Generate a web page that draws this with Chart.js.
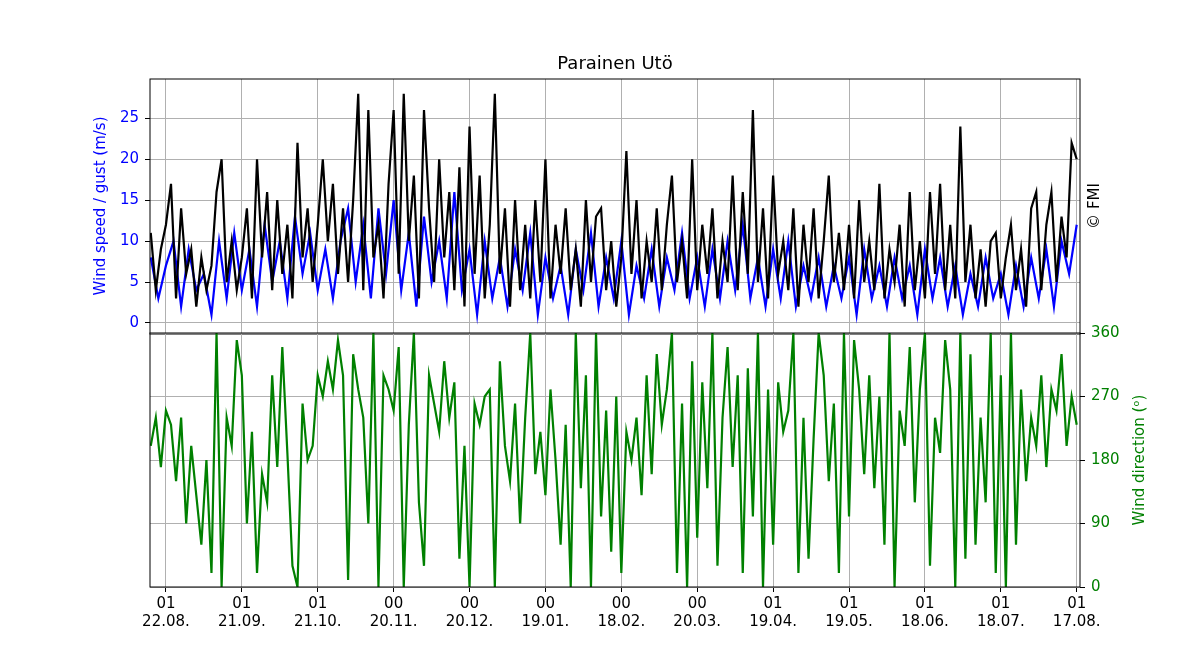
<!DOCTYPE html>
<html><head><meta charset="utf-8">
<script src="https://cdn.jsdelivr.net/npm/chart.js@4"></script>
<style>body{margin:0;background:#fff;width:1200px;height:660px;overflow:hidden;font-family:"DejaVu Sans"}
#c1{position:absolute;left:0;top:0}#c2{position:absolute;left:0;top:318px}</style></head>
<body><canvas id="c1" width="1200" height="349"></canvas><canvas id="c2" width="1200" height="342"></canvas>
<script>
const title = "Parainen Utö";
const startDay = -6;      // days relative to 22.08.
const gustStep = 2, speedStep = 3, dirStep = 2;
const tickDays = [0,30,60,90,120,150,180,210,240,270,300,330,360];
const tickHours = ["01","01","01","00","00","00","00","00","01","01","01","01","01"];
const tickDates = ["22.08.","21.09.","21.10.","20.11.","20.12.","19.01.","18.02.","20.03.","19.04.","19.05.","18.06.","18.07.","17.08."];
const gust = [11,4,9,12,17,3,14,6,9,2,8,4,7,16,20,5,10,4,8,14,3,20,8,16,4,15,6,12,3,22,8,14,5,12,20,10,17,6,14,5,15,28,4,26,8,12,3,17,26,6,28,10,18,3,26,14,5,20,8,16,4,19,2,24,6,18,3,12,28,6,14,2,15,4,12,3,15,5,20,3,12,6,14,4,9,2,15,5,13,14,4,10,2,8,21,6,15,3,10,5,14,4,12,18,5,10,3,20,4,12,6,14,3,10,5,18,4,16,6,26,5,14,3,18,6,10,4,14,2,12,5,14,3,10,18,5,11,4,12,3,15,5,10,4,17,3,9,5,12,2,16,4,10,3,16,6,17,4,12,3,24,5,12,3,9,2,10,11,3,8,12,4,9,2,14,16,4,12,16,5,13,8,22,20];
const speed = [8,3,7,10,2,9,4,6,1,10,3,11,4,9,2,12,5,10,3,13,6,11,4,9,3,10,14,5,12,3,14,6,15,4,11,2,13,5,10,3,16,4,9,1,10,3,8,2,9,4,11,1,8,3,7,1,9,4,11,2,8,3,10,1,7,3,9,2,8,4,11,3,8,2,9,3,10,4,12,3,8,2,9,3,10,2,7,3,8,2,7,3,8,1,9,3,7,2,8,3,7,1,9,3,8,2,7,1,6,2,8,3,6,1,7,2,8,3,9,2,10,6,12];
const direction = [200,240,170,250,230,150,240,90,200,130,60,180,20,360,0,240,200,350,300,90,220,20,160,120,300,170,340,190,30,0,260,180,200,300,270,320,280,350,300,10,330,280,240,90,360,0,300,280,250,340,0,230,360,120,30,300,260,220,320,240,290,40,200,0,260,230,270,280,0,320,200,150,260,90,240,360,160,220,130,280,180,60,230,0,360,140,300,0,360,100,250,50,270,20,220,180,240,130,300,160,330,230,280,360,20,260,0,320,70,290,140,360,30,240,340,170,300,20,310,100,360,0,280,60,290,220,250,360,20,240,40,210,360,300,150,260,20,360,100,350,280,160,300,140,270,60,360,0,250,200,340,120,280,360,30,240,190,350,280,0,360,40,330,60,240,120,360,20,300,0,360,60,280,150,240,200,300,170,280,250,330,200,270,230];

const pts = (arr, step) => arr.map((v, i) => ({x: startDay + step * i, y: v}));
const xMin = -6.3, xMax = 361.3;
const frame = {id:'frame', afterDraw(c){const a=c.chartArea,x=c.ctx;x.save();x.strokeStyle='#000';x.lineWidth=1;x.strokeRect(a.left,a.top,a.right-a.left,a.bottom-a.top);x.restore();}};
const xTicks = s => { s.ticks = tickDays.map(v => ({value: v})); };
const grid = {color:'#b0b0b0', lineWidth:1, drawTicks:true, tickColor:'#000', tickLength:5};
const vText = (ctx, t, x, y, col) => {ctx.save();ctx.fillStyle=col;ctx.font='15px "DejaVu Sans"';ctx.textAlign='center';ctx.textBaseline='middle';ctx.translate(x,y);ctx.rotate(-Math.PI/2);ctx.fillText(t,0,0);ctx.restore();};

new Chart(document.getElementById('c1'), {
  type:'line',
  data:{datasets:[
    {data:pts(gust,gustStep), borderColor:'#000', borderWidth:2.2, pointRadius:0, order:0},
    {data:pts(speed,speedStep), borderColor:'#0000ff', borderWidth:2.2, pointRadius:0, order:1}
  ]},
  options:{responsive:false, animation:false, layout:{padding:{top:79,right:120,left:90,bottom:0}},
    plugins:{legend:{display:false}, tooltip:{enabled:false}},
    scales:{
      x:{type:'linear', min:xMin, max:xMax, afterBuildTicks:xTicks, ticks:{display:false}, grid:grid, border:{display:false}, afterFit:s=>{s.height=1;}},
      y:{min:-1.35, max:29.8, afterBuildTicks:s=>{s.ticks=[0,5,10,15,20,25].map(v=>({value:v}));},
         ticks:{color:'#0000ff', font:{size:15, family:'DejaVu Sans'}, padding:6},
         grid:grid, border:{display:false}, afterFit:s=>{s.width=60;}}
    }},
  plugins:[frame,{id:'txt',afterDraw(c){const x=c.ctx;x.save();x.fillStyle='#000';x.font='18px "DejaVu Sans"';x.textAlign='center';x.fillText(title,615,69);x.restore();
    vText(x,'Wind speed / gust (m/s)',101,206,'#0000ff');vText(x,'© FMI',1095,206,'#000');}}]
});

new Chart(document.getElementById('c2'), {
  type:'line',
  data:{datasets:[{data:pts(direction,dirStep), borderColor:'#008000', borderWidth:2.2, pointRadius:0}]},
  options:{responsive:false, animation:false, layout:{padding:{top:0,right:60,left:150,bottom:0}},
    plugins:{legend:{display:false}, tooltip:{enabled:false}},
    scales:{
      x:{type:'linear', min:xMin, max:xMax, afterBuildTicks:xTicks,
         ticks:{color:'#000', font:{size:15, family:'DejaVu Sans'}, maxRotation:0, autoSkip:false,
           callback:(v)=>{const i=tickDays.indexOf(v);return i<0?'':[tickHours[i],tickDates[i]];}},
         grid:grid, border:{display:false}, afterFit:s=>{s.height=73;}},
      y:{position:'right', min:0, max:360, afterBuildTicks:s=>{s.ticks=[0,90,180,270,360].map(v=>({value:v}));},
         ticks:{color:'#008000', font:{size:15, family:'DejaVu Sans'}, padding:6},
         grid:grid, border:{display:false}, afterFit:s=>{s.width=60;}}
    }},
  plugins:[frame,{id:'t2',afterDraw(c){vText(c.ctx,'Wind direction (ᵒ)',1140,142,'#008000');}}]
});
</script></body></html>
